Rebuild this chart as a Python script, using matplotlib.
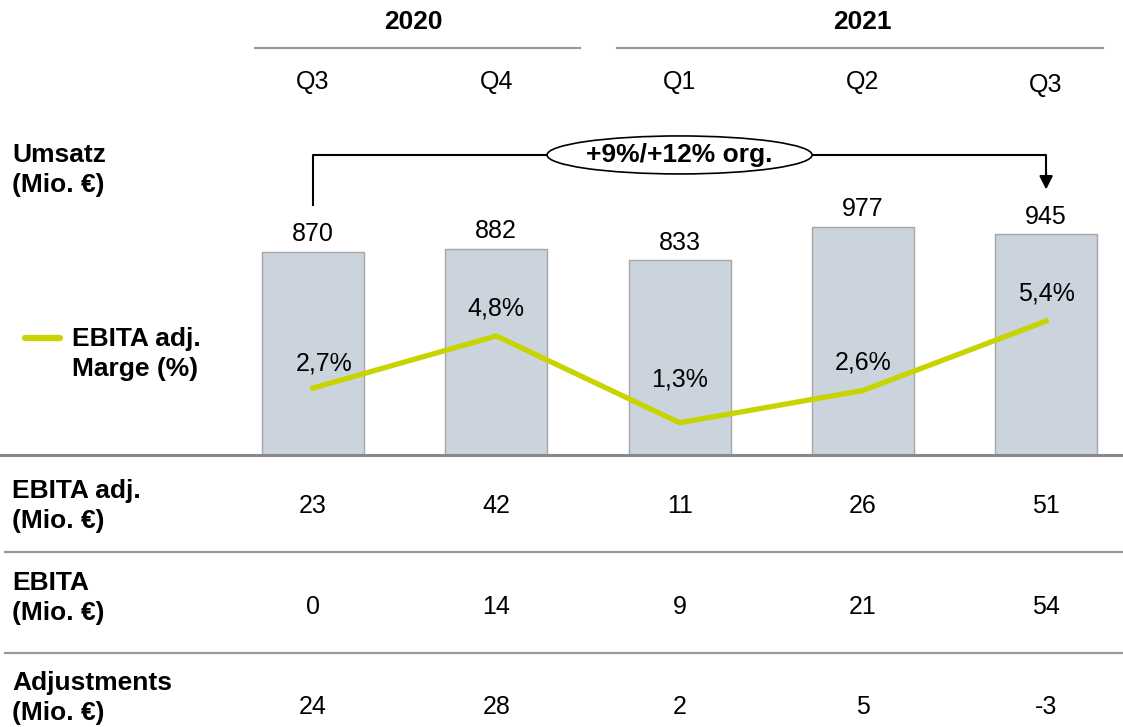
import matplotlib

matplotlib.use("Agg")
import matplotlib.pyplot as plt
from matplotlib.lines import Line2D
from matplotlib.patches import Ellipse
from matplotlib.transforms import blended_transform_factory

# --- data -------------------------------------------------------------------
quarters = ["Q3", "Q4", "Q1", "Q2", "Q3"]
years = ["2020", "2021"]
umsatz = [870, 882, 833, 977, 945]
marge = [2.7, 4.8, 1.3, 2.6, 5.4]
marge_labels = ["2,7%", "4,8%", "1,3%", "2,6%", "5,4%"]
growth_label = "+9%/+12% org."
row_names = ["EBITA adj.\n(Mio. €)", "EBITA\n(Mio. €)", "Adjustments\n(Mio. €)"]
ebita_adj = [23, 42, 11, 26, 51]
ebita = [0, 14, 9, 21, 54]
adjustments = [24, 28, 2, 5, -3]

# --- style ------------------------------------------------------------------
plt.rcParams["font.family"] = ["Liberation Sans", "DejaVu Sans"]
FS = 18      # regular numbers / quarter labels
FB = 19      # bold row labels
BAR_C, BAR_EDGE = "#cbd3dc", "#a6a6a6"
LINE_C = "#c8d400"
RULE_C = "#999999"
W, H = 1123, 727

fig = plt.figure(figsize=(W / 100, H / 100), dpi=100)
# axes in pixel terms: baseline at y=455, bar pitch ~183 px
ax = fig.add_axes([221.4 / W, (H - 455) / H, 898 / W, 250 / H])
ax.set_xlim(-0.5, 4.4)
ax.set_ylim(0, 250 / 0.2335)
ax.axis("off")
x = list(range(len(quarters)))

ax.bar(x, umsatz, width=0.557, color=BAR_C, edgecolor=BAR_EDGE, linewidth=1, zorder=2)
for xi, v in zip(x, umsatz):
    ax.annotate(str(v), (xi, v), xytext=(0, 4), textcoords="offset points",
                ha="center", va="bottom", fontsize=FS)

ax2 = ax.twinx()
ax2.set_ylim(0, 250 / 24.8)
ax2.axis("off")
ax2.plot(x, marge, color=LINE_C, lw=3.8, zorder=3, solid_joinstyle="miter")
offsets = [(8, 18), (0, 20), (0, 31), (0, 20), (0, 20)]
for xi, m, lab, off in zip(x, marge, marge_labels, offsets):
    ax2.annotate(lab, (xi, m), xytext=off, textcoords="offset points",
                 ha="center", va="center", fontsize=FS)

# growth bracket
ytop = 1285
ax.plot([0, 0, 4, 4], [ax.get_ylim()[1], ytop, ytop, 1200], color="black",
        lw=1.5, clip_on=False, zorder=4)
ax.annotate("", xy=(4, 1137), xytext=(4, 1210),
            arrowprops=dict(arrowstyle="-|>,head_length=0.8,head_width=0.4",
                            color="black", lw=1.5, shrinkA=0, shrinkB=0),
            annotation_clip=False)
ax.add_patch(Ellipse((2, ytop), 265 / 183.25, 38 / 0.2335, facecolor="white",
                     edgecolor="black", lw=1.2, clip_on=False, zorder=5))
ax.text(2, ytop, growth_label, ha="center", va="center", fontsize=FB,
        fontweight="bold", zorder=6)

# header: years and quarters
tr = blended_transform_factory(ax.transData, fig.transFigure)
fy = lambda py: 1 - py / H
ax.text(0.55, fy(22), years[0], transform=tr, ha="center", va="center",
        fontsize=FB, fontweight="bold")
ax.text(3.0, fy(22), years[1], transform=tr, ha="center", va="center",
        fontsize=FB, fontweight="bold")
fig.add_artist(Line2D([255 / W, 580 / W], [fy(48), fy(48)], color=RULE_C, lw=1.6))
fig.add_artist(Line2D([617 / W, 1103 / W], [fy(48), fy(48)], color=RULE_C, lw=1.6))
q_y = [82, 82, 82, 82, 85]
for xi, q, py in zip(x, quarters, q_y):
    ax.text(xi, fy(py), q, transform=tr, ha="center", va="center", fontsize=FS)

# left labels
fig.text(12 / W, fy(170), "Umsatz\n(Mio. €)", ha="left", va="center",
         fontsize=FB, fontweight="bold", linespacing=1.3)
fig.add_artist(Line2D([25 / W, 60 / W], [fy(338), fy(338)], color=LINE_C, lw=4.5,
                      solid_capstyle="round"))
fig.text(72 / W, fy(354), "EBITA adj.\nMarge (%)", ha="left", va="center",
         fontsize=FB, fontweight="bold", linespacing=1.3)

# baseline and table
fig.add_artist(Line2D([0, 1], [fy(455), fy(455)], color="#888888", lw=2.2))
for py in (552, 653):
    fig.add_artist(Line2D([5 / W, 1], [fy(py), fy(py)], color=RULE_C, lw=1.6))

rows = [ebita_adj, ebita, adjustments]
row_y = [506, 598, 698]
val_y = [506, 607, 707]
for name, vals, py, vy in zip(row_names, rows, row_y, val_y):
    fig.text(12 / W, fy(py), name, ha="left", va="center", fontsize=FB,
             fontweight="bold", linespacing=1.3)
    for xi, v in zip(x, vals):
        ax.text(xi, fy(vy), str(v), transform=tr, ha="center", va="center",
                fontsize=FS)

fig.savefig("out.png", dpi=100)
